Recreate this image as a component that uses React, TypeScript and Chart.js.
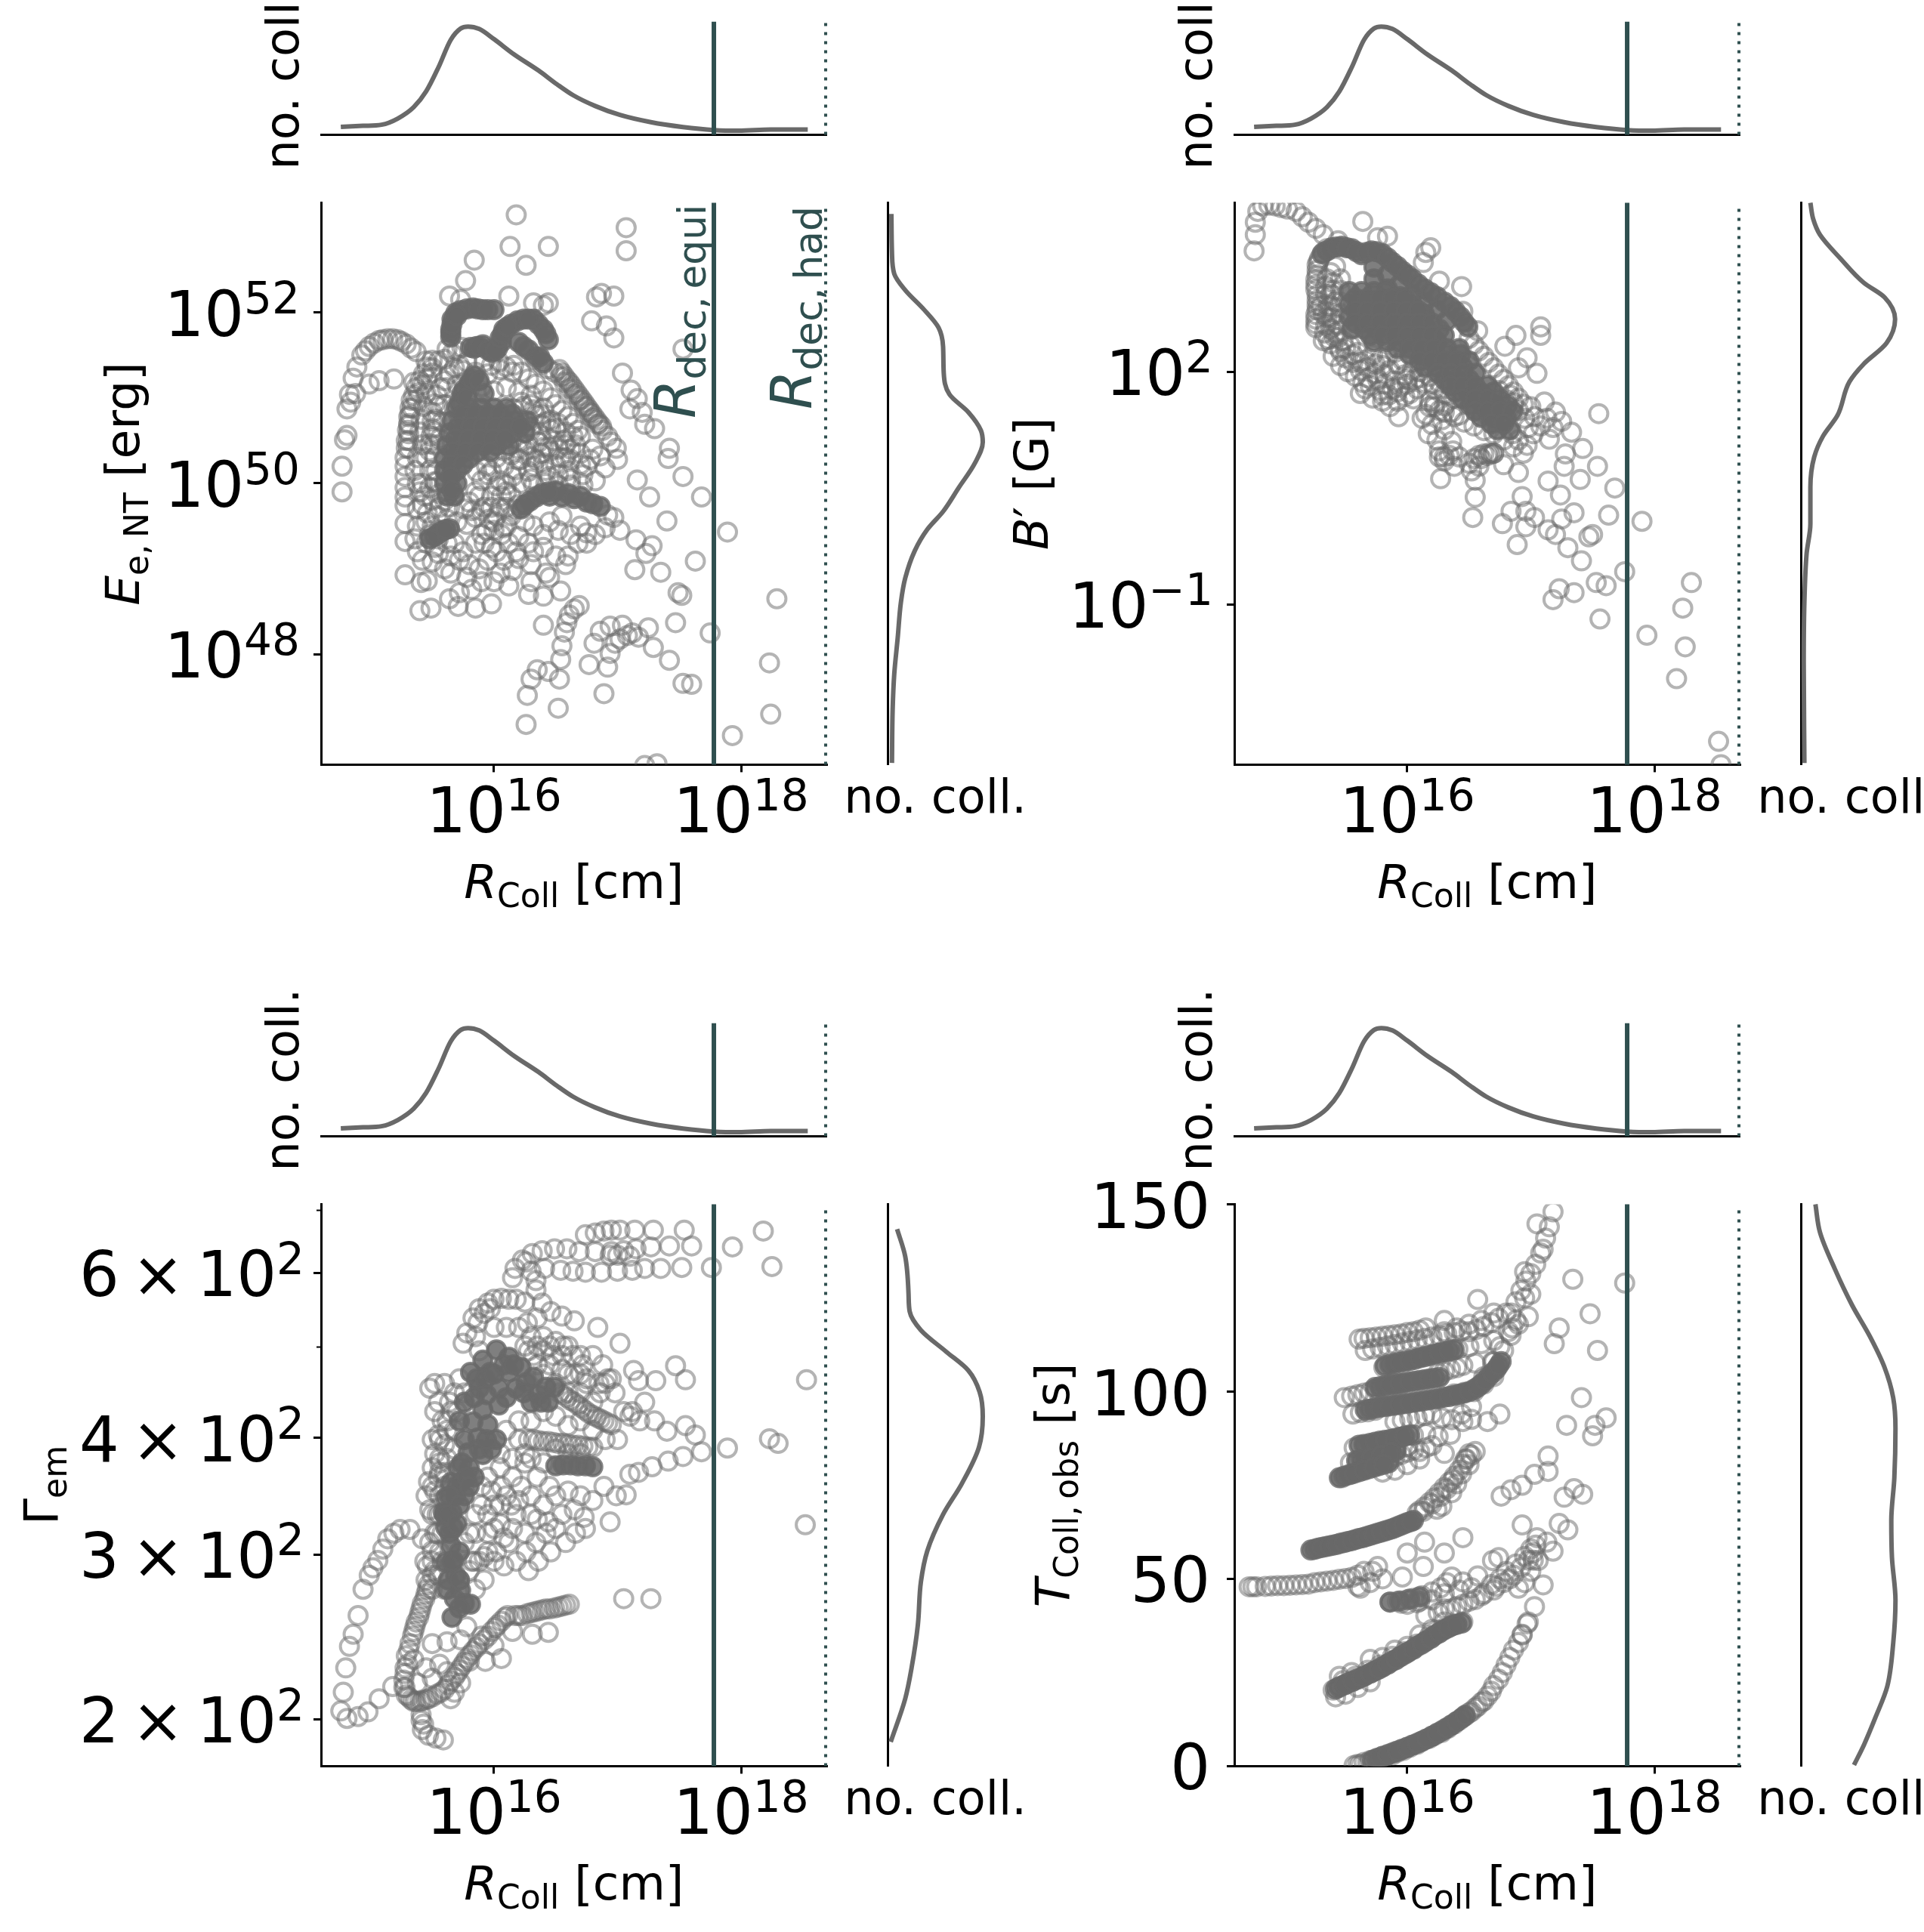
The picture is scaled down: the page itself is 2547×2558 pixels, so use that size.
import { useEffect, useRef } from "react"
import { Chart, registerables, type ChartConfiguration } from "chart.js"

Chart.register(...registerables)

// all scatter values are [log10 R_coll, log10 y] (the T panel keeps y in seconds)
const rTicks = [1e16, 1e18]
const rTickExponents = ["16", "18"]
const rMinLog = 14.6
const rMaxLog = 18.694
const rDecEquiLog = 17.78
const rDecHadLog = 18.685

const collisionKdeR = [14.76, 14.94, 15.09, 15.22, 15.35, 15.45, 15.55, 15.65, 15.73, 15.79, 15.88, 16.0, 16.16, 16.36, 16.51, 16.64, 16.82, 17.02, 17.27, 17.53, 17.78, 17.98, 18.24, 18.54]
const collisionKdeCount = [0.07, 0.08, 0.09, 0.144, 0.245, 0.383, 0.596, 0.84, 0.94, 0.957, 0.936, 0.846, 0.713, 0.569, 0.447, 0.351, 0.255, 0.176, 0.112, 0.069, 0.043, 0.037, 0.048, 0.048]

const energyTicks = [1e48, 1e50, 1e52]
const energyTickExponents = ["48", "50", "52"]
const energyKdeCount = [0.04, 0.046, 0.07, 0.185, 0.384, 0.536, 0.583, 0.59, 0.65, 0.85, 0.98, 1.0, 0.914, 0.748, 0.583, 0.417, 0.285, 0.185, 0.14, 0.106, 0.07, 0.053, 0.046]
const energyKdeLog = [53.15, 52.7, 52.45, 52.26, 52.03, 51.82, 51.6, 51.29, 51.04, 50.83, 50.62, 50.48, 50.23, 49.95, 49.67, 49.46, 49.21, 48.89, 48.61, 48.19, 47.77, 47.35, 46.73]

const energyOutliers = [
  [16.18, 53.14], [17.07, 52.99], [17.07, 52.72], [16.13, 52.77], [16.44, 52.77], [16.26, 52.55], [15.84, 52.61], [15.77, 52.37], [15.64, 52.19], [15.73, 52.15],
  [16.12, 52.19], [16.32, 52.11], [16.44, 52.11], [16.4, 52.08], [16.87, 52.22], [16.83, 52.18], [16.97, 52.19], [16.79, 51.9], [16.91, 51.84], [16.97, 51.7],
  [17.53, 51.57], [17.04, 51.29], [17.11, 51.09], [17.16, 50.99], [17.1, 50.87], [17.2, 50.83], [17.3, 50.64], [17.22, 50.69], [17.42, 50.41], [17.41, 50.29],
  [17.53, 50.08], [17.16, 50.04], [17.68, 49.84], [17.26, 49.84], [17.4, 49.56], [17.89, 49.43], [17.15, 49.34], [17.28, 49.27], [17.23, 49.18], [17.63, 49.09],
  [17.14, 48.99], [17.35, 48.96], [17.49, 48.72], [17.52, 48.69], [18.29, 48.65], [17.47, 48.37], [17.75, 48.25], [17.25, 48.31], [17.29, 48.08], [17.42, 47.93],
  [17.53, 47.66], [17.6, 47.65], [18.23, 47.9], [16.89, 47.54], [18.24, 47.3], [17.93, 47.05], [17.22, 46.7], [17.32, 46.72],
]
const energyLowerArcs = [
  [16.26, 47.18], [16.52, 47.37], [16.27, 47.52], [16.3, 47.71], [16.35, 47.82], [16.44, 47.8], [16.53, 47.71], [16.54, 47.94], [16.55, 48.1], [16.57, 48.26],
  [16.59, 48.37], [16.61, 48.46], [16.65, 48.53], [16.69, 48.57], [16.4, 48.34], [16.77, 47.88], [16.92, 47.85], [16.94, 48.01], [16.81, 48.13], [16.86, 48.27],
  [16.94, 48.33], [17.04, 48.34], [17.02, 48.18], [17.12, 48.25], [17.17, 48.2], [16.98, 48.13], [17.08, 48.22],
]
const energyLeftArc = [
  [14.77, 49.9], [14.77, 50.2], [14.79, 50.51], [14.81, 50.56], [14.81, 50.87], [14.83, 51.04], [14.86, 51.23], [14.89, 51.36], [14.93, 51.5], [14.96, 51.55],
  [14.99, 51.6], [15.03, 51.64], [15.07, 51.67], [15.1, 51.68], [15.14, 51.69], [15.18, 51.69], [15.22, 51.68], [15.25, 51.66], [15.29, 51.63], [15.33, 51.58],
  [15.37, 51.54], [15.45, 51.43], [14.99, 51.16], [15.07, 51.2], [15.19, 51.22], [15.35, 51.18], [14.88, 51.05], [14.84, 50.95],
]
const energyLeftColumn = [
  [15.5, 51.29], [15.46, 51.22], [15.42, 51.15], [15.39, 51.06], [15.37, 50.97], [15.34, 50.88], [15.32, 50.8], [15.31, 50.7], [15.3, 50.62], [15.29, 50.5],
  [15.29, 50.41], [15.28, 50.3], [15.28, 50.2], [15.28, 50.08], [15.28, 49.95], [15.28, 49.84], [15.28, 49.74], [15.28, 49.53], [15.28, 49.32], [15.28, 48.93],
  [15.41, 48.84], [15.46, 48.86], [15.4, 48.51], [15.49, 48.54], [15.64, 48.65], [15.71, 48.56], [15.85, 48.54], [15.98, 48.59], [16.28, 48.7], [16.4, 48.68], [16.54, 48.74],
  [15.45, 51.05], [15.43, 50.9], [15.41, 50.75], [15.4, 50.6], [15.42, 50.45], [15.45, 50.3], [15.48, 50.15],
]
const energyRingTop = [
  [15.62, 51.57], [15.66, 51.52], [15.7, 51.55], [15.74, 51.59], [15.5, 51.35], [15.55, 51.43], [15.6, 51.45],
  [16.33, 51.45], [16.39, 51.39], [16.44, 51.34], [16.49, 51.3], [16.54, 51.25], [16.57, 51.18], [16.61, 51.11], [16.65, 51.04], [16.69, 50.97], [16.73, 50.9], [16.77, 50.83], [16.8, 50.76], [16.84, 50.69],
  [16.88, 50.62], [16.92, 50.55], [16.95, 50.48], [16.99, 50.41],
  [16.53, 51.33], [16.55, 51.29], [16.57, 51.25], [16.59, 51.21], [16.61, 51.18], [16.63, 51.14], [16.65, 51.1], [16.67, 51.06], [16.69, 51.02], [16.71, 50.98], [16.73, 50.94], [16.75, 50.9], [16.77, 50.86], [16.79, 50.82], [16.81, 50.78], [16.83, 50.74], [16.85, 50.7], [16.87, 50.67],
]
const energyCore = [
  [15.75, 51.32], [15.85, 51.3], [15.95, 51.28], [16.05, 51.33], [16.15, 51.3], [15.62, 51.12], [15.7, 51.15], [15.8, 51.1], [15.9, 51.13], [16.0, 51.08], [16.1, 51.12], [16.2, 51.07], [16.3, 51.03],
  [15.6, 50.92], [15.68, 50.88], [16.16, 50.87], [16.24, 50.9], [16.32, 50.86], [16.4, 50.88],
  [15.58, 50.72], [16.3, 50.66], [16.38, 50.69], [16.46, 50.63], [15.56, 50.52], [16.2, 50.5], [16.28, 50.45], [16.36, 50.48], [16.44, 50.42], [16.52, 50.4],
  [16.2, 50.27], [16.3, 50.31], [16.4, 50.24], [16.5, 50.22], [16.58, 50.3], [16.7, 50.35], [16.8, 50.4],
  [15.62, 50.12], [15.95, 50.1], [16.05, 50.03], [16.15, 50.08], [16.3, 50.05], [16.45, 50.08], [16.6, 50.15], [16.75, 50.2], [16.9, 50.18], [17.0, 50.28],
  [15.85, 49.9], [15.98, 49.85], [16.1, 49.9], [15.64, 49.72], [15.76, 49.7], [15.9, 49.68], [16.05, 49.72],
]
const energyExtraArcs = [
  [15.5, 51.44], [15.46, 51.36], [15.43, 51.28], [15.4, 51.2], [15.37, 51.12], [15.35, 51.03], [15.33, 50.97], [15.32, 50.88], [15.31, 50.78], [15.31, 50.68], [15.31, 50.58], [15.31, 50.5], [15.31, 50.41],
  [15.68, 51.35], [15.64, 51.28], [15.6, 51.2], [15.57, 51.12], [15.54, 51.03], [15.52, 50.93], [15.5, 50.83], [15.5, 50.73], [15.5, 50.64], [15.49, 50.55], [15.48, 50.46], [15.48, 50.38],
  [15.78, 51.42], [15.72, 51.38], [15.92, 51.42], [15.98, 51.38], [16.04, 51.42], [16.1, 51.36], [16.16, 51.38], [16.22, 51.3], [16.28, 51.22], [16.34, 51.16], [16.4, 51.08], [16.46, 51.0], [16.5, 50.92], [16.55, 50.85], [16.6, 50.78], [16.64, 50.7], [16.68, 50.62], [16.7, 50.55],
  [16.34, 50.8], [16.42, 50.72], [16.5, 50.64], [16.56, 50.5], [16.62, 50.4], [16.54, 50.3], [16.46, 50.38], [16.38, 50.56], [16.3, 50.62], [16.22, 50.28], [16.32, 50.2], [16.42, 50.15], [16.52, 50.1], [16.62, 50.05], [16.72, 50.1], [16.38, 50.35], [16.28, 50.14], [16.18, 50.16], [16.08, 50.2], [15.98, 50.14],
  [15.42, 50.0], [15.48, 49.95], [15.52, 50.02], [15.56, 49.88], [15.5, 49.8], [15.42, 49.75], [15.38, 49.7], [15.46, 49.65], [15.54, 49.62], [15.62, 49.58], [15.7, 49.55], [15.78, 49.52], [15.85, 49.6], [15.92, 49.72], [15.96, 49.58], [16.0, 49.45], [16.02, 49.62], [15.94, 49.45], [16.14, 49.85], [16.18, 49.7], [16.1, 49.72], [15.85, 49.3], [15.75, 49.2], [15.65, 49.15], [15.55, 49.18], [15.95, 49.1], [16.05, 48.95], [15.72, 48.72], [15.82, 48.76], [16.0, 48.85], [16.15, 48.98],
]
const energyMesh = [
  [15.55, 50.9], [15.53, 50.75], [15.52, 50.6], [15.52, 50.45], [15.52, 50.3], [15.53, 50.15], [15.54, 50.02], [15.6, 49.8], [15.56, 49.72], [15.44, 49.85], [15.4, 49.9], [15.38, 50.0], [15.36, 50.15], [15.38, 50.3],
  [16.22, 50.95], [16.3, 50.92], [16.38, 50.8], [16.46, 50.74], [16.52, 50.7], [16.58, 50.6], [16.64, 50.55], [16.58, 50.45], [16.66, 50.45], [16.62, 50.28], [16.7, 50.22], [16.78, 50.28], [16.86, 50.32], [16.48, 50.5], [16.4, 50.42], [16.34, 50.28], [16.26, 50.38], [16.2, 50.4], [16.14, 50.33], [16.08, 50.38], [16.02, 50.3],
  [15.94, 50.2], [15.86, 50.14], [15.9, 50.03], [16.02, 49.97], [16.1, 49.98], [16.22, 50.0], [16.32, 49.98], [16.42, 50.0], [16.52, 49.98], [16.62, 49.98], [16.72, 49.98], [16.82, 50.03], [15.88, 49.85], [15.8, 49.78], [15.82, 49.68], [15.98, 49.72], [16.06, 49.85], [16.0, 49.55], [16.06, 49.4], [16.12, 49.3], [16.2, 49.38], [16.28, 49.3], [16.4, 49.4], [16.45, 49.55], [16.52, 49.45], [16.62, 49.4], [16.68, 49.3], [16.75, 49.42], [16.4, 49.25], [16.5, 49.15], [16.58, 49.05],
]
const energyShoulder = [
  [16.2, 49.75], [16.14, 49.62], [16.1, 49.5], [16.55, 49.62], [16.7, 49.5], [16.82, 49.4], [16.9, 49.48], [17.02, 49.45], [16.75, 49.3], [16.6, 49.15], [16.92, 49.63], [16.97, 49.6],
]
const energyLowerCluster = [
  [15.45, 49.55], [15.5, 49.5], [15.55, 49.45], [15.48, 49.4], [15.55, 49.35], [15.62, 49.3], [15.68, 49.3], [15.45, 49.3], [15.52, 49.25],
  [15.38, 49.5], [15.36, 49.35], [15.38, 49.2], [15.42, 49.1], [15.5, 49.08], [15.6, 49.0], [15.65, 48.95], [15.72, 49.1], [15.8, 49.05], [15.88, 49.0], [15.9, 48.85], [15.78, 48.9], [15.98, 49.25], [15.92, 49.3],
  [15.9, 49.4], [16.02, 49.2], [16.08, 49.1], [16.18, 49.2], [16.2, 49.12], [16.32, 49.2], [16.3, 49.05], [16.3, 48.85], [16.42, 48.95], [16.45, 48.9], [16.08, 49.48], [16.25, 49.55], [16.32, 49.5], [16.12, 48.8],
]
// stretches where the rings pile up into solid grey
const energyDense = [
  [15.65, 51.71], [15.65, 51.8], [15.66, 51.92], [15.73, 52.02], [15.83, 52.05], [15.91, 52.03], [16.0, 52.03], [15.69, 51.99], [15.78, 52.04],
  [15.81, 51.59], [15.86, 51.6], [15.91, 51.62], [15.98, 51.53], [16.03, 51.58], [16.06, 51.65], [16.08, 51.8], [16.14, 51.86], [16.19, 51.9], [16.24, 51.92], [16.32, 51.92], [16.36, 51.86], [16.4, 51.8], [16.44, 51.68], [16.4, 51.41], [16.28, 51.56], [16.2, 51.65], [16.34, 51.48],
  [15.7, 50.88], [15.8, 50.88], [15.9, 50.88], [16.0, 50.88], [16.1, 50.88], [15.66, 50.73], [15.76, 50.73], [15.87, 50.73], [15.97, 50.73], [16.07, 50.73], [16.17, 50.73], [16.27, 50.73],
  [15.64, 50.59], [15.75, 50.59], [15.85, 50.59], [15.95, 50.59], [16.05, 50.59], [16.15, 50.59], [16.25, 50.59], [15.62, 50.44], [15.72, 50.44], [15.82, 50.44], [15.92, 50.44], [16.02, 50.44], [16.12, 50.44],
  [15.6, 50.29], [15.7, 50.29], [15.8, 50.29], [15.6, 50.15], [15.7, 50.15], [15.6, 50.0], [15.7, 50.0], [15.62, 49.85], [15.68, 49.85],
  [15.72, 50.94], [15.74, 51.05], [15.8, 51.17], [15.84, 51.26],
  [16.22, 49.7], [16.29, 49.79], [16.39, 49.88], [16.5, 49.91], [16.6, 49.88], [16.7, 49.85], [16.8, 49.76], [16.86, 49.73], [16.45, 49.85], [16.55, 49.84], [16.65, 49.82], [16.75, 49.78],
  [15.58, 49.44], [15.52, 49.38], [15.64, 49.47],
]
const energyDenseFill = [
  [15.75, 50.81], [15.85, 50.81], [15.95, 50.81], [16.05, 50.81], [16.15, 50.81], [15.71, 50.66], [15.81, 50.66], [15.91, 50.66], [16.01, 50.66], [16.11, 50.66], [16.21, 50.66], [15.69, 50.52], [15.79, 50.52], [15.89, 50.52], [15.99, 50.52], [16.09, 50.52], [15.67, 50.37], [15.77, 50.37], [15.87, 50.37], [15.97, 50.37], [15.65, 50.22], [15.75, 50.22], [15.65, 50.08], [15.66, 49.92],
  [15.65, 51.76], [15.66, 51.86], [15.7, 51.96], [15.87, 52.04], [15.95, 52.03], [15.84, 51.58], [15.88, 51.6], [15.95, 51.56], [16.01, 51.55], [16.05, 51.7], [16.07, 51.75], [16.11, 51.83], [16.28, 51.92], [16.42, 51.75], [16.37, 51.48], [16.24, 51.6],
  [16.34, 49.84], [16.44, 49.9], [16.25, 49.75], [15.55, 49.41], [15.61, 49.46], [15.48, 49.35], [15.76, 51.1], [15.78, 51.0], [15.82, 51.22], [15.88, 51.2], [15.92, 51.05],
]

const fieldTicks = [1e-1, 1e2]
const fieldTickExponents = ["\u22121", "2"]
const fieldKdeCount = [0.1, 0.13, 0.2, 0.417, 0.66, 0.88, 0.99, 0.9, 0.66, 0.51, 0.386, 0.233, 0.14, 0.1, 0.1, 0.06, 0.037, 0.03, 0.037]
const fieldKdeLog = [4.18, 3.97, 3.77, 3.46, 3.15, 2.96, 2.68, 2.37, 2.1, 1.87, 1.44, 1.17, 0.9, 0.51, 0.04, -0.35, -0.97, -1.75, -3.05]

const fieldOutliers = [
  [15.64, 3.94], [15.76, 3.73], [15.84, 3.75], [16.19, 3.6], [16.15, 3.54], [16.13, 3.41], [16.26, 3.17], [16.44, 3.1], [16.45, 2.78], [16.57, 2.53], [16.88, 2.47], [16.79, 2.33], [17.08, 2.58], [17.08, 2.47],
  [16.97, 2.18], [16.9, 2.05], [17.05, 1.98], [17.55, 1.46], [17.11, 1.61], [17.2, 1.48], [17.25, 1.36], [17.33, 1.22], [17.42, 1.01], [17.15, 1.13], [17.28, 0.94], [17.27, 0.78], [17.4, 0.61], [17.54, 0.78],
  [17.14, 0.59], [17.24, 0.41], [17.68, 0.5], [16.93, 0.39], [17.63, 0.15], [17.9, 0.07], [17.35, 0.18], [17.25, 0.1], [17.03, 0.12], [16.96, 0.2], [16.84, 0.2], [16.77, 0.04], [16.89, -0.23], [16.96, 0],
  [17.14, -0.04], [17.2, -0.1], [17.3, -0.27], [17.5, -0.1], [17.47, -0.13], [17.41, -0.44], [17.76, -0.58], [17.53, -0.72], [17.61, -0.76], [17.23, -0.8], [17.18, -0.94], [17.35, -0.85], [18.3, -0.72],
  [18.23, -1.05], [17.56, -1.19], [17.94, -1.4], [18.25, -1.55], [18.18, -1.96], [18.52, -2.77], [18.54, -3.07], [17.03, 1.42], [17.08, 1.3], [17.0, 1.55], [17.13, 1.4], [17.18, 1.28],
]
const fieldLeftArc = [
  [14.76, 3.56], [14.77, 3.77], [14.77, 3.93], [14.79, 4.07], [14.83, 4.14], [14.88, 4.15], [14.93, 4.14], [14.98, 4.12], [15.03, 4.1], [15.1, 4.07], [15.15, 4.0], [15.2, 3.93], [15.26, 3.85], [15.32, 3.77], [15.44, 3.69],
  [15.26, 2.57], [15.27, 2.8], [15.27, 2.99], [15.26, 3.19], [15.27, 3.38], [15.29, 3.46], [15.32, 3.54], [15.35, 3.59],
  [15.26, 2.62], [15.26, 2.68], [15.26, 2.74], [15.27, 2.86], [15.27, 2.92], [15.26, 3.06], [15.26, 3.12], [15.27, 3.25], [15.27, 3.31], [15.28, 3.42], [15.33, 2.5], [15.36, 2.42], [15.41, 2.45], [15.35, 3.2], [15.38, 3.28], [15.42, 3.36],
]
const fieldMidRings = [
  [15.34, 3.0], [15.4, 3.05], [15.36, 2.85], [15.42, 2.9], [15.35, 2.7], [15.41, 2.75], [15.38, 2.55], [15.44, 2.6], [15.32, 2.4], [15.38, 2.36], [15.44, 2.44], [15.4, 2.2], [15.46, 2.26], [15.46, 2.08], [15.52, 2.0],
  [15.45, 2.3], [15.5, 2.18], [15.56, 2.12], [15.62, 2.02], [15.68, 1.92], [15.74, 1.98], [15.8, 2.08], [15.86, 2.02], [15.92, 2.1], [15.98, 1.96], [16.04, 2.02], [15.7, 1.82], [15.78, 1.76], [15.85, 1.7], [15.92, 1.74], [15.98, 1.68], [16.02, 1.72], [16.08, 1.78], [15.66, 1.78], [15.62, 1.72], [15.72, 1.66], [15.8, 1.62], [15.88, 1.78], [16.1, 1.92], [16.18, 1.94], [16.26, 1.86], [16.34, 1.82], [16.42, 1.76],
  [15.58, 1.94], [15.64, 1.86], [15.76, 1.9], [15.82, 1.84], [15.94, 1.8], [16.0, 1.84], [16.06, 1.9], [16.14, 1.86], [16.22, 1.78], [16.3, 1.72], [16.38, 1.66], [16.46, 1.7], [16.54, 1.6], [16.62, 1.54], [16.7, 1.46], [16.78, 1.38],
  [16.5, 2.43], [16.54, 2.35], [16.58, 2.27], [16.62, 2.2], [16.66, 2.12], [16.7, 2.05], [16.74, 1.97], [16.78, 1.9], [16.82, 1.82], [16.86, 1.74], [16.9, 1.66], [16.94, 1.58], [16.83, 1.7], [16.86, 1.6], [16.9, 1.5], [16.95, 1.4], [16.98, 1.28], [17.02, 1.2], [16.74, 1.76], [16.8, 1.64], [16.86, 1.48],
  [15.42, 2.5], [15.48, 2.4], [15.54, 2.34], [15.6, 2.25], [15.66, 2.15], [15.72, 2.22], [15.78, 2.15], [15.84, 2.2], [15.9, 2.25], [15.96, 2.15], [15.5, 2.3], [15.56, 2.22], [15.62, 2.12], [15.68, 2.05], [15.74, 2.1], [15.82, 1.96], [15.9, 1.88], [16.0, 1.9], [16.1, 2.0], [16.2, 1.85], [15.3, 2.85], [15.32, 2.75], [15.34, 2.6], [15.38, 2.7], [15.38, 2.85], [15.38, 3.0], [15.34, 3.1], [15.4, 3.15], [15.46, 3.2], [15.42, 2.62], [15.46, 2.75], [15.46, 2.9], [15.46, 3.05],
]
const fieldLower = [
  [15.8, 1.7], [15.86, 1.55], [15.92, 1.62], [15.93, 1.42], [16.05, 1.65], [16.17, 1.2], [16.15, 1.45], [16.18, 1.62], [16.22, 1.55], [16.3, 1.48], [16.3, 1.25], [16.38, 1.42], [16.46, 1.35], [16.54, 1.3], [16.62, 1.24], [16.7, 1.2], [16.78, 1.12], [16.86, 1.03], [16.94, 0.95],
  [16.26, 0.98], [16.3, 0.9], [16.37, 0.98], [16.42, 0.9], [16.27, 0.62], [16.55, 0.6], [16.58, 0.78], [16.6, 0.88], [16.65, 0.92], [16.68, 0.94], [16.7, 0.95], [16.55, 0.38], [16.53, 0.12],
  [16.36, 1.1], [16.24, 1.12], [16.85, 1.2], [16.9, 1.12], [16.97, 1.05], [16.78, 0.8], [16.9, 0.7], [16.18, 1.55], [16.22, 1.6], [16.26, 1.5], [16.3, 1.56], [16.36, 1.48], [16.42, 1.44], [16.12, 1.4], [16.2, 1.32], [16.28, 1.38],
  [16.5, 0.82], [16.54, 0.88], [16.58, 0.92], [16.62, 0.94], [16.66, 0.95], [16.7, 0.95], [16.52, 0.72], [16.3, 0.85], [16.38, 0.78], [16.34, 0.92], [16.26, 0.9],
]
const fieldDense = [
  [15.31, 3.52], [15.39, 3.6], [15.47, 3.62], [15.55, 3.59], [15.63, 3.51], [15.71, 3.56], [15.8, 3.52], [15.88, 3.41], [15.96, 3.3], [16.04, 3.2], [16.14, 3.07], [16.24, 2.97], [16.35, 2.84], [16.43, 2.71], [16.49, 2.58], [15.35, 3.56], [15.43, 3.61], [15.51, 3.6], [15.59, 3.55],
  [15.73, 3.2], [15.84, 3.07], [15.94, 2.97], [16.04, 2.84], [16.14, 2.74], [15.73, 3.35], [15.84, 3.25], [15.94, 3.13], [16.04, 3.0], [16.14, 2.9], [16.24, 2.8], [16.32, 2.66],
  [15.53, 3.035], [15.63, 3.035], [15.73, 3.035], [15.83, 3.035], [15.53, 2.87], [15.63, 2.87], [15.73, 2.87], [15.84, 2.87], [15.94, 2.87], [16.04, 2.87],
  [15.53, 2.71], [15.63, 2.71], [15.73, 2.71], [15.84, 2.71], [15.94, 2.71], [16.04, 2.71], [16.14, 2.71], [15.55, 2.55], [15.65, 2.55], [15.75, 2.55], [15.86, 2.55], [15.96, 2.55], [16.06, 2.55], [16.16, 2.55], [16.26, 2.55],
  [15.73, 2.39], [15.84, 2.39], [15.94, 2.39], [16.04, 2.39], [16.14, 2.39], [16.24, 2.39], [16.02, 2.22], [16.12, 2.22], [16.22, 2.22], [16.32, 2.22], [16.43, 2.22],
  [16.14, 2.06], [16.24, 2.06], [16.35, 2.06], [16.45, 2.06], [16.3, 1.9], [16.4, 1.9], [16.5, 1.9], [16.39, 1.74], [16.49, 1.74], [16.59, 1.74], [16.7, 1.74],
  [16.51, 1.57], [16.61, 1.57], [16.71, 1.57], [16.81, 1.57], [16.6, 1.41], [16.7, 1.41], [16.8, 1.41], [16.73, 1.25], [16.83, 1.25],
]
const fieldDenseFill = [
  [15.58, 2.95], [15.68, 2.95], [15.78, 2.95], [15.88, 2.95], [15.98, 2.95], [15.58, 2.79], [15.68, 2.79], [15.78, 2.79], [15.89, 2.79], [15.99, 2.79], [16.09, 2.79], [15.58, 2.63], [15.68, 2.63], [15.78, 2.63], [15.9, 2.63], [16.0, 2.63], [16.1, 2.63], [16.2, 2.63], [15.7, 2.47], [15.8, 2.47], [15.9, 2.47], [16.0, 2.47], [16.1, 2.47], [16.2, 2.47], [16.3, 2.47],
  [15.92, 2.3], [16.02, 2.3], [16.12, 2.3], [16.22, 2.3], [16.32, 2.3], [16.42, 2.3], [16.1, 2.14], [16.2, 2.14], [16.3, 2.14], [16.4, 2.14], [16.5, 2.14], [16.25, 1.98], [16.35, 1.98], [16.45, 1.98], [16.55, 1.98], [16.35, 1.82], [16.45, 1.82], [16.55, 1.82], [16.65, 1.82], [16.45, 1.65], [16.55, 1.65], [16.65, 1.65], [16.75, 1.65], [16.55, 1.49], [16.65, 1.49], [16.75, 1.49], [16.85, 1.49], [16.68, 1.33], [16.78, 1.33],
  [15.67, 3.54], [15.75, 3.55], [15.84, 3.47], [15.92, 3.36], [16, 3.25], [16.09, 3.13], [16.19, 3.02], [16.3, 2.9], [16.39, 2.78], [16.46, 2.64],
]

const gammaTicks = [200, 300, 400, 600]
const gammaMinorTicks = [500, 700]
const gammaMantissas = ["2", "3", "4", "6"]
const gammaKdeCount = [0.1, 0.185, 0.22, 0.232, 0.35, 0.616, 0.848, 0.967, 1.0, 0.96, 0.78, 0.583, 0.417, 0.35, 0.318, 0.252, 0.185, 0.033]
const gammaKdeLog = [2.825, 2.796, 2.756, 2.737, 2.717, 2.694, 2.674, 2.651, 2.625, 2.592, 2.553, 2.52, 2.481, 2.448, 2.402, 2.356, 2.323, 2.277]

const gammaTopTracks = [
  [18.18, 2.823], [17.54, 2.824], [17.29, 2.824], [17.14, 2.824], [17.02, 2.824], [16.95, 2.824], [16.89, 2.823], [16.82, 2.821], [16.74, 2.819], [17.93, 2.806], [17.6, 2.807], [17.42, 2.807], [17.27, 2.806], [17.15, 2.804],
  [17.05, 2.802], [16.95, 2.801], [16.82, 2.801], [16.69, 2.801], [16.59, 2.804], [16.49, 2.804], [16.39, 2.802], [16.31, 2.799], [16.23, 2.792], [16.17, 2.783], [16.15, 2.773], [18.25, 2.785], [17.76, 2.784], [17.52, 2.784],
  [17.35, 2.783], [17.22, 2.783], [17.12, 2.781], [17.0, 2.78], [16.87, 2.779], [16.74, 2.779], [16.64, 2.78], [16.54, 2.781], [16.41, 2.783], [16.34, 2.77], [16.34, 2.76], [16.39, 2.746], [16.3, 2.78], [16.26, 2.79], [16.94, 2.797], [17.1, 2.796], [17.0, 2.797],
]
const gammaMiddleArc = [
  [15.75, 2.703], [15.78, 2.714], [15.83, 2.73], [15.88, 2.74], [15.95, 2.746], [16.0, 2.75], [16.06, 2.751], [16.12, 2.75], [16.18, 2.75], [16.25, 2.747], [15.87, 2.725], [15.92, 2.735], [15.97, 2.74], [15.85, 2.71], [15.88, 2.695],
  [16.46, 2.737], [16.55, 2.732], [16.65, 2.727], [16.84, 2.72], [17.02, 2.703], [16.27, 2.725], [16.35, 2.73], [16.2, 2.72], [16.1, 2.72], [16.0, 2.72],
]
const gammaArmRings = [
  [16.53, 2.65], [16.56, 2.648], [16.59, 2.645], [16.62, 2.642], [16.65, 2.64], [16.68, 2.637], [16.71, 2.634], [16.74, 2.631], [16.77, 2.628], [16.8, 2.626], [16.83, 2.624], [16.86, 2.622], [16.89, 2.62], [16.92, 2.618], [16.95, 2.616],
  [16.28, 2.6], [16.32, 2.6], [16.36, 2.599], [16.4, 2.598], [16.44, 2.598], [16.48, 2.597], [16.52, 2.596], [16.56, 2.596], [16.6, 2.595], [16.64, 2.594], [16.68, 2.594], [16.72, 2.593], [16.76, 2.592], [16.8, 2.592],
]
const gammaScatterBand = [
  [15.48, 2.655], [15.52, 2.63], [15.55, 2.605], [15.56, 2.58], [15.55, 2.56], [15.47, 2.555], [15.45, 2.54], [15.5, 2.52], [15.54, 2.5], [15.56, 2.48], [15.5, 2.47], [15.46, 2.465],
  [16.25, 2.7], [16.32, 2.69], [16.4, 2.695], [16.48, 2.69], [16.56, 2.7], [16.64, 2.69], [16.72, 2.68], [16.8, 2.69], [16.88, 2.68], [16.92, 2.665], [16.98, 2.65], [16.86, 2.65], [16.75, 2.66], [17.05, 2.63], [17.12, 2.63], [17.18, 2.62],
  [15.95, 2.56], [16.05, 2.57], [16.15, 2.56], [16.25, 2.575], [16.35, 2.56], [16.45, 2.55], [16.2, 2.62], [16.3, 2.62], [16.4, 2.63], [16.5, 2.625], [16.6, 2.615], [16.7, 2.62], [16.8, 2.61], [16.9, 2.6], [17.0, 2.6],
  [15.9, 2.53], [16.0, 2.53], [16.1, 2.54], [16.2, 2.535], [16.3, 2.52], [16.4, 2.53], [16.5, 2.54], [16.6, 2.545], [16.7, 2.54], [16.8, 2.535], [15.85, 2.5], [15.95, 2.5], [16.05, 2.51], [16.15, 2.505], [16.25, 2.5], [16.35, 2.515], [16.44, 2.512], [16.55, 2.52], [16.65, 2.525],
  [15.82, 2.47], [15.92, 2.475], [16.02, 2.48], [16.12, 2.49], [15.5, 2.44], [15.55, 2.455], [15.85, 2.44], [15.78, 2.4], [15.72, 2.45],
  [15.52, 2.66], [15.55, 2.64], [15.58, 2.62], [15.5, 2.6], [15.52, 2.585], [15.6, 2.595], [15.62, 2.61], [15.65, 2.63], [15.68, 2.65], [15.72, 2.665], [15.76, 2.65], [15.6, 2.565], [15.56, 2.54], [15.5, 2.55], [15.48, 2.525], [15.54, 2.52], [15.58, 2.5],
  [15.98, 2.545], [16.06, 2.55], [16.14, 2.53], [16.22, 2.55], [16.3, 2.54], [16.05, 2.53], [15.95, 2.52], [16.0, 2.505], [16.08, 2.495], [16.18, 2.52], [16.26, 2.48], [16.34, 2.49], [16.42, 2.5], [16.5, 2.505], [16.58, 2.49], [16.66, 2.5], [16.74, 2.505], [16.0, 2.47], [16.08, 2.465], [16.18, 2.47], [16.28, 2.46], [16.36, 2.47], [16.46, 2.48], [15.92, 2.45],
  [16.3, 2.71], [16.4, 2.71], [16.5, 2.705], [16.6, 2.7], [16.7, 2.69], [16.35, 2.68], [16.45, 2.68], [16.55, 2.675], [16.65, 2.67], [16.75, 2.665], [16.85, 2.66], [16.95, 2.665], [16.28, 2.695], [16.6, 2.65], [16.7, 2.65], [16.8, 2.64],
]
const gammaMesh = [
  [15.6, 2.66], [15.64, 2.64], [15.7, 2.63], [15.62, 2.62], [15.68, 2.61], [15.56, 2.6], [15.62, 2.58], [15.68, 2.59], [15.56, 2.575], [15.6, 2.55], [15.5, 2.57], [15.56, 2.565], [15.52, 2.545], [15.56, 2.52], [15.52, 2.5], [15.48, 2.49], [15.44, 2.47], [15.52, 2.46], [15.58, 2.47], [15.45, 2.45], [15.6, 2.44],
  [15.8, 2.5], [15.85, 2.52], [15.9, 2.55], [15.88, 2.47], [15.95, 2.48], [15.8, 2.46], [15.84, 2.47], [15.76, 2.49], [16.35, 2.7], [16.45, 2.7], [16.55, 2.69], [16.4, 2.67], [16.5, 2.66], [16.6, 2.67], [16.7, 2.67], [16.9, 2.66],
  [16.2, 2.6], [16.1, 2.61], [16.25, 2.585], [16.15, 2.58], [16.3, 2.58], [16.05, 2.585], [16.4, 2.575], [16.5, 2.59], [16.6, 2.585], [16.7, 2.585],
]
const gammaRightEdge = [
  [18.53, 2.664], [18.23, 2.601], [18.3, 2.596], [17.89, 2.591], [17.68, 2.587], [18.52, 2.509], [17.55, 2.664], [17.47, 2.679], [17.31, 2.663], [17.17, 2.663], [17.13, 2.674], [17.55, 2.615], [17.63, 2.605], [17.4, 2.609],
  [17.53, 2.582], [17.41, 2.577], [17.28, 2.571], [17.17, 2.565], [17.1, 2.563], [17.07, 2.541], [16.99, 2.54], [16.89, 2.55], [16.94, 2.512], [16.73, 2.517], [17.3, 2.62], [17.22, 2.64], [17.1, 2.625],
]
const gammaLowerLoops = [
  [14.76, 2.31], [14.78, 2.33], [14.8, 2.356], [14.83, 2.379], [14.86, 2.392], [14.9, 2.412], [14.94, 2.44], [14.99, 2.455], [15.02, 2.463], [15.06, 2.471], [15.1, 2.483], [15.14, 2.494], [15.19, 2.5], [15.24, 2.504], [15.32, 2.504], [15.42, 2.494], [15.5, 2.481],
  [14.81, 2.302], [14.9, 2.304], [14.98, 2.309], [15.07, 2.323], [15.18, 2.336], [15.41, 2.3], [15.42, 2.29], [15.47, 2.284], [15.53, 2.281], [15.59, 2.279], [15.41, 2.306], [15.43, 2.296],
  [15.5, 2.455], [15.47, 2.445], [15.45, 2.435], [15.42, 2.425], [15.4, 2.415], [15.37, 2.405], [15.35, 2.395], [15.32, 2.382], [15.29, 2.369], [15.28, 2.356], [15.27, 2.343], [15.28, 2.335], [15.29, 2.327], [15.33, 2.322], [15.37, 2.32], [15.42, 2.321], [15.47, 2.323], [15.54, 2.328],
  [15.6, 2.333], [15.65, 2.342], [15.7, 2.35], [15.74, 2.358], [15.78, 2.366], [15.83, 2.374], [15.88, 2.382], [15.95, 2.39], [16.01, 2.399], [16.06, 2.406], [16.11, 2.412], [16.17, 2.412], [16.23, 2.412], [16.3, 2.415], [16.36, 2.417], [16.42, 2.419], [16.49, 2.42], [16.55, 2.422], [16.61, 2.424],
  [17.05, 2.43], [17.27, 2.43], [16.31, 2.392], [16.44, 2.394], [16.06, 2.366], [15.93, 2.363], [15.8, 2.363], [15.65, 2.323], [15.73, 2.34], [15.5, 2.382], [15.62, 2.384], [15.73, 2.386], [15.45, 2.356], [15.35, 2.365], [15.38, 2.34], [15.5, 2.345], [15.56, 2.36], [15.62, 2.352], [15.68, 2.33], [15.9, 2.39], [16.0, 2.38], [16.15, 2.395],
  [15.46, 2.44], [15.44, 2.43], [15.41, 2.42], [15.39, 2.41], [15.36, 2.4], [15.34, 2.39], [15.31, 2.375], [15.3, 2.36], [15.28, 2.35], [15.27, 2.335], [15.31, 2.325], [15.35, 2.32], [15.4, 2.32], [15.45, 2.322], [15.5, 2.325], [15.57, 2.33], [15.63, 2.338], [15.68, 2.346], [15.72, 2.354], [15.76, 2.362], [15.81, 2.37], [15.86, 2.378], [15.92, 2.386], [15.98, 2.395], [16.03, 2.402], [16.09, 2.41], [16.2, 2.412], [16.27, 2.414], [16.33, 2.416], [16.39, 2.418], [16.45, 2.419], [16.52, 2.421], [16.58, 2.423],
]
const gammaDense = [
  [16.02, 2.696], [15.91, 2.685], [16.12, 2.688], [16.22, 2.677], [16.32, 2.667], [16.42, 2.656], [15.81, 2.672], [15.97, 2.672], [16.12, 2.672], [16.26, 2.661], [16.36, 2.648], [16.49, 2.656], [15.88, 2.655], [16.04, 2.655], [16.18, 2.655], [16.3, 2.64],
  [15.91, 2.632], [16.04, 2.637], [15.83, 2.619], [15.95, 2.616], [15.87, 2.602], [16.02, 2.6], [15.79, 2.586], [15.91, 2.584], [15.71, 2.57], [15.8, 2.57], [15.65, 2.554], [15.74, 2.555], [15.61, 2.538], [15.69, 2.54], [15.59, 2.522], [15.66, 2.522], [15.61, 2.506], [15.67, 2.506], [15.65, 2.487], [15.61, 2.469], [15.67, 2.471], [15.69, 2.455], [15.63, 2.45], [15.73, 2.439], [15.68, 2.43], [15.81, 2.424], [15.76, 2.425],
  [16.5, 2.572], [16.56, 2.573], [16.62, 2.573], [16.68, 2.572], [16.74, 2.572], [16.8, 2.571],
]
const gammaDenseFill = [
  [15.86, 2.665], [15.93, 2.665], [16.0, 2.67], [16.08, 2.68], [16.16, 2.68], [15.84, 2.645], [15.94, 2.648], [16.1, 2.645], [16.24, 2.65], [16.38, 2.64], [16.44, 2.64],
  [15.76, 2.64], [15.72, 2.62], [15.76, 2.6], [15.88, 2.59], [15.98, 2.59], [15.84, 2.56], [15.74, 2.575], [15.76, 2.54], [15.7, 2.55], [15.64, 2.54], [15.6, 2.52], [15.63, 2.52], [15.64, 2.5], [15.7, 2.51], [15.66, 2.47], [15.72, 2.48], [15.62, 2.44], [15.72, 2.45], [15.66, 2.41], [15.72, 2.42], [15.94, 2.6], [15.78, 2.56], [15.72, 2.53], [15.8, 2.55],
]

const timeTicks = [0, 50, 100, 150]
const timeTickLabels = ["0", "50", "100", "150"]
const timeKdeCount = [0.153, 0.2, 0.356, 0.54, 0.724, 0.877, 0.97, 0.994, 0.982, 0.95, 0.957, 0.994, 0.97, 0.908, 0.785, 0.663, 0.558]
const timeKdeSeconds = [150, 142.6, 132.8, 123, 114.8, 106.6, 98.4, 90.2, 77, 65.6, 55.7, 44.3, 32.8, 21.3, 13.1, 5.7, 0.3]

const timeBottomTrack = [
  [15.57, 0.2], [15.6, 0.5], [15.65, 1], [15.7, 1.5], [15.75, 2], [15.8, 2.6], [15.85, 3.2], [15.9, 3.8], [15.95, 4.4], [16, 5], [16.05, 5.7], [16.1, 6.4], [16.15, 7.2], [16.2, 8], [16.25, 8.9], [16.3, 9.8], [16.35, 10.8], [16.4, 11.9], [16.45, 13], [16.5, 14.2],
  [16.55, 15.5], [16.6, 17], [16.65, 18.7], [16.68, 20], [16.7, 21.5], [16.74, 23.2], [16.77, 25], [16.8, 27], [16.83, 29], [16.86, 31], [16.9, 33], [16.93, 35], [16.97, 38], [17.03, 42.6], [15.62, 0.4], [15.68, 0.9], [15.72, 1.4], [15.78, 2], [15.82, 2.5], [15.88, 3], [15.92, 3.7], [15.97, 4.2], [16.02, 5], [16.08, 5.8], [16.12, 6.6],
  [16.18, 7.4], [16.22, 8.2], [16.28, 9], [16.33, 10.1], [16.38, 11.2], [16.42, 12.2], [16.47, 13.4], [16.52, 14.6], [16.57, 16], [16.62, 17.4],
]
const timeLowerBand = [
  [15.4, 20.3], [15.45, 21], [15.5, 21.8], [15.55, 22.5], [15.6, 23.2], [15.65, 24], [15.7, 24.8], [15.75, 25.6], [15.8, 26.5], [15.85, 27.4], [15.9, 28.3], [15.95, 29.3], [16, 30.3], [16.05, 31.3], [16.1, 32.3], [16.15, 33.3], [16.2, 34.4], [16.25, 35.4], [16.3, 36.4], [16.35, 37.3], [16.4, 38], [16.45, 38.5],
  [15.42, 18.5], [15.5, 19.2], [15.6, 21], [15.7, 22.5], [15.45, 24], [15.55, 25], [15.7, 28.5], [15.8, 29], [15.9, 31], [16, 32], [16.1, 35], [16.2, 36.5], [16.3, 38.5], [15.48, 22.8], [15.58, 24], [15.68, 25.6], [15.78, 27], [15.88, 29.3], [15.98, 30.6], [16.08, 32.6], [16.18, 34.8], [16.28, 36.6], [16.38, 37.8],
]
const timeMiddleBands = [
  [15.86, 43.8], [15.92, 44], [16, 44.4], [16.05, 44.8], [16.12, 45.5], [16.2, 46.5], [16.27, 47.6], [16.32, 49], [16.36, 50.5], [16.15, 40.2], [16.25, 41], [16.35, 42], [16.45, 43.2], [16.55, 44.5], [16.62, 46], [16.68, 48.5], [16.75, 50], [16.8, 52], [16.88, 54], [16.95, 56], [17.0, 58], [17.05, 61],
  [15.95, 43.5], [16.1, 44], [16.2, 44.4], [16.3, 46], [16.42, 47], [16.52, 47.6], [16.6, 45.5], [16.72, 48], [16.83, 50], [16.9, 47.5], [16.95, 49], [17.0, 52], [17.02, 55],
  [16.0, 43.2], [16.08, 43.6], [16.3, 42], [16.4, 42.6], [16.5, 44], [16.7, 47], [16.78, 49], [16.86, 51], [16.92, 53], [16.98, 55], [17.02, 57], [17.04, 59],
]
const timeLeftTail = [
  [14.72, 47.9], [14.75, 47.9], [14.78, 47.9], [14.85, 48], [14.9, 48.1], [14.95, 48.2], [15, 48.2], [15.05, 48.3], [15.1, 48.4], [15.15, 48.5], [15.2, 48.6], [15.25, 49], [15.3, 49.2], [15.35, 49.4], [15.4, 49.6], [15.45, 49.9], [15.5, 50.1], [15.55, 50.4], [15.6, 51], [15.62, 47.5], [15.6, 48], [15.7, 49], [15.8, 50], [15.76, 53.3], [15.72, 52], [15.65, 52],
]
const timeRisingBand = [
  [16.08, 67.6], [16.1, 68.2], [16.13, 68], [16.14, 69.2], [16.18, 70.4], [16.2, 70], [16.22, 71.6], [16.26, 73], [16.27, 72], [16.3, 74.4], [16.32, 74], [16.34, 75.8], [16.37, 76.5], [16.38, 77.4], [16.42, 79], [16.45, 80.6], [16.47, 82], [16.48, 82], [16.5, 83.4], [16.55, 84],
  [16.24, 68.6], [16.28, 69.4], [16.36, 73], [16.4, 75.4], [16.44, 78], [16.5, 80.5], [16.52, 83],
]
const timeUpperBands = [
  [15.47, 77], [15.55, 78], [15.65, 79.2], [15.75, 80.4], [15.85, 81.8], [15.9, 82.6], [15.95, 83.2], [16, 83.8], [16.05, 84.4], [16.15, 85], [15.57, 85], [15.67, 85.8], [15.77, 86.4], [15.88, 87.2], [15.95, 87.8], [16.05, 88.4], [16.15, 88.8],
  [15.54, 81], [15.6, 81.4], [15.66, 81.8], [15.72, 82.4], [15.78, 83], [15.84, 83.6], [15.9, 84.4], [16, 85.4], [16.1, 84], [16.2, 85.6], [16.25, 88], [16.35, 88.6], [16.45, 92], [16.52, 92.6], [15.8, 78.5], [15.9, 79], [16, 80.5], [16.1, 82], [16.3, 83.5],
  [15.9, 92], [15.96, 92.4], [16.02, 92.8], [16.08, 93], [16.14, 93.6], [16.2, 94], [16.28, 93], [16.36, 92.5], [16.44, 94], [16.52, 96],
  [15.49, 98.4], [15.55, 98.8], [15.6, 99.2], [15.65, 99.6], [15.7, 100], [15.75, 100.4], [15.8, 100.8], [15.85, 101], [15.9, 101.6], [15.95, 102], [16.25, 105], [16.3, 105.4], [16.35, 106], [16.4, 106.4], [16.45, 107], [16.55, 107.6], [16.69, 108],
  [15.56, 94], [15.62, 94.4], [15.68, 94.6], [15.74, 95], [16.38, 99.4], [16.46, 99.8], [16.54, 100], [16.62, 102], [16.7, 104],
  [15.81, 106.5], [16.41, 111.4], [16.5, 112], [16.6, 112.8], [16.7, 113.6], [16.84, 115],
  [15.61, 114], [15.65, 114.2], [15.7, 114.4], [15.75, 114.6], [15.8, 114.8], [15.85, 115], [15.9, 115.2], [15.95, 115.4], [16, 115.8], [16.05, 116], [16.1, 116.4], [16.15, 117], [16.3, 116], [16.4, 117], [16.5, 118], [16.6, 119], [16.7, 121],
  [15.66, 111], [15.72, 111.4], [15.78, 111.8], [15.84, 112.2], [15.9, 112.6], [15.96, 113], [16.02, 113.4], [16.08, 113.8], [16.14, 114.2], [16.2, 114.6], [16.26, 115], [16.32, 115.4], [16.38, 115.8], [16.44, 116.2], [16.5, 116], [16.56, 116.6], [16.62, 117.4], [16.68, 118.4], [16.74, 119.6], [16.8, 121],
]
const timeUpperCurve = [
  [16.84, 121], [16.88, 124], [16.92, 127], [16.96, 129.5], [17.0, 131.5], [17.04, 134], [17.08, 137], [17.1, 138], [17.12, 141], [17.15, 144], [17.18, 148], [17.05, 144.8], [16.95, 125], [16.98, 120], [16.9, 118], [16.95, 132], [17.0, 126],
  [16.75, 112], [16.82, 116], [16.88, 119], [16.62, 104], [16.7, 108], [16.78, 111], [16.85, 117],
]
const timeOutliers = [
  [16.57, 124.6], [16.3, 119], [17.34, 130], [17.76, 129], [17.48, 120.8], [17.23, 117], [17.19, 112.8], [17.54, 111], [17.41, 98.4], [17.29, 91], [17.61, 93], [17.52, 91], [17.5, 88.2], [17.14, 82.8], [17.14, 78.7], [17.03, 77.9], [16.93, 75], [16.84, 73.8], [16.76, 72.1], [17.35, 74.1], [17.42, 72.6], [17.27, 71.8],
  [16.93, 64.4], [17.23, 64.8], [17.3, 63.1], [16.45, 61], [16.14, 59.8], [16, 56.9], [16.13, 53.3], [16.3, 56.9], [15.96, 50.5], [16.74, 55.7], [16.69, 54.9], [16.57, 50.8], [16.45, 49.2], [16.98, 38.5], [16.93, 35.2], [17.18, 57.4], [17.13, 59.8], [17.06, 54.9], [17.1, 48.4], [16.75, 94], [16.65, 92],
]
const timeDense = [
  [15.82, 106.9], [15.9, 107.5], [15.98, 108], [16.06, 108.6], [16.14, 109.3], [16.22, 110], [16.3, 110.6], [16.38, 111.2],
  [15.74, 101.1], [15.82, 101.6], [15.9, 102], [15.98, 102.4], [16.06, 102.8], [16.14, 103.2], [16.22, 103.6],
  [15.66, 95.1], [15.74, 95.6], [15.82, 96], [15.9, 96.4], [15.98, 96.8], [16.06, 97.2], [16.14, 97.6], [16.22, 98], [16.3, 98.5], [16.38, 99], [16.46, 99.6], [16.54, 100.6], [16.6, 102], [16.66, 104], [16.72, 106], [16.76, 108],
  [15.61, 85.7], [15.7, 86.2], [15.78, 86.8], [15.86, 87.2], [15.94, 87.8], [16.02, 88.4], [15.59, 81.6], [15.67, 82], [15.75, 82.6], [15.83, 83.4], [15.91, 84.2],
  [15.45, 77], [15.53, 77.8], [15.61, 78.6], [15.69, 79.4], [15.77, 80.2], [15.85, 81],
  [15.22, 57.7], [15.28, 58.2], [15.34, 58.6], [15.4, 59], [15.46, 59.5], [15.52, 60], [15.58, 60.5], [15.64, 61], [15.7, 61.6], [15.76, 62.2], [15.82, 62.8], [15.88, 63.4], [15.94, 64.2], [16.0, 65], [16.05, 65.6],
  [15.45, 21.2], [15.52, 22.2], [15.59, 23.2], [15.66, 24.2], [15.73, 25.3], [15.8, 26.5], [15.87, 27.9], [15.94, 29.2], [16.01, 30.5], [16.08, 32], [16.15, 33.4], [16.22, 34.9], [16.29, 36.3], [16.36, 37.4], [16.44, 38.2],
  [15.72, 1.6], [15.8, 2.6], [15.88, 3.5], [15.96, 4.5], [16.04, 5.6], [16.12, 6.7], [16.2, 8], [16.28, 9.4], [16.36, 11], [16.44, 12.8], [15.86, 43.8], [15.94, 44.1], [16.02, 44.6], [16.1, 45.2],
]
const timeDenseFill = [
  [15.86, 107.2], [15.94, 107.8], [16.02, 108.3], [16.1, 109], [16.18, 109.6], [16.26, 110.3], [16.34, 110.9], [15.78, 101.3], [15.86, 101.8], [15.94, 102.2], [16.02, 102.6], [16.1, 103], [16.18, 103.4], [16.26, 103.8],
  [15.7, 95.3], [15.78, 95.8], [15.86, 96.2], [15.94, 96.6], [16.02, 97], [16.1, 97.4], [16.18, 97.8], [16.26, 98.2], [16.34, 98.7], [16.42, 99.3], [16.5, 100], [16.57, 101.2], [16.63, 103], [16.69, 105], [16.74, 107],
  [15.65, 85.9], [15.74, 86.5], [15.82, 87], [15.9, 87.5], [15.98, 88.1], [15.63, 81.8], [15.71, 82.3], [15.79, 83], [15.87, 83.8], [15.49, 77.4], [15.57, 78.2], [15.65, 79], [15.73, 79.8], [15.81, 80.6],
  [15.25, 57.9], [15.31, 58.4], [15.37, 58.8], [15.43, 59.2], [15.49, 59.7], [15.55, 60.2], [15.61, 60.8], [15.67, 61.3], [15.73, 61.9], [15.79, 62.5], [15.85, 63.1], [15.91, 63.8], [15.97, 64.6], [16.03, 65.3],
  [15.42, 20.6], [15.49, 21.7], [15.56, 22.7], [15.63, 23.7], [15.7, 24.8], [15.77, 25.9], [15.84, 27.2], [15.91, 28.5], [15.98, 29.9], [16.05, 31.2], [16.12, 32.7], [16.19, 34.1], [16.26, 35.6], [16.33, 36.9], [16.4, 37.8],
  [15.76, 2.1], [15.84, 3], [15.92, 4], [16.0, 5], [16.08, 6.1], [16.16, 7.3], [16.24, 8.7], [16.32, 10.2], [16.4, 11.9], [16.47, 13.6],
]

const TICK_LEN = 10
const FONT = '"DejaVu Sans"'
const GRAY = "#696969"
const SLATE = "#2f4f4f"

type Run = { text: string; italic?: boolean; level?: "sub" | "sup" }
type Label = { runs: Run[]; x: number; y: number; size: number; rotated?: boolean; align?: "left" | "center" | "right"; color?: string }

const rCollRuns: Run[] = [{ text: "R", italic: true }, { text: "Coll", level: "sub" }, { text: " [cm]" }]
const countRuns: Run[] = [{ text: "no. coll." }]

function drawRuns(ctx: CanvasRenderingContext2D, l: Label) {
  const fontOf = (r: Run) => `${r.italic ? "italic " : ""}${r.level ? l.size * 0.7 : l.size}px ${FONT}`
  ctx.save()
  ctx.translate(l.x, l.y)
  if (l.rotated) ctx.rotate(-Math.PI / 2)
  ctx.fillStyle = l.color || "#000"
  ctx.textBaseline = "alphabetic"
  ctx.textAlign = "left"
  const widths = l.runs.map((r) => {
    ctx.font = fontOf(r)
    return ctx.measureText(r.text).width
  })
  const total = widths.reduce((a, b) => a + b, 0)
  let cx = l.align === "center" ? -total / 2 : l.align === "right" ? -total : 0
  l.runs.forEach((r, i) => {
    ctx.font = fontOf(r)
    const dy = r.level === "sub" ? l.size * 0.19 : r.level === "sup" ? -l.size * 0.36 : 0
    ctx.fillText(r.text, cx, dy)
    cx += widths[i]
  })
  ctx.restore()
}

function labelsPlugin(getLabels: (chart: Chart) => Label[]) {
  return {
    id: "labels",
    afterDraw(chart: Chart) {
      getLabels(chart).forEach((l) => drawRuns(chart.ctx, l))
    },
  }
}

function toPoints(pairs: number[][], yIsLog: boolean) {
  return pairs.map(([r, y]) => ({ x: 10 ** r, y: yIsLog ? 10 ** y : y }))
}

function vLines(yMin: number, yMax: number) {
  const line = (logR: number, dashed: boolean) => ({
    data: [
      { x: 10 ** logR, y: yMin },
      { x: 10 ** logR, y: yMax },
    ],
    showLine: true,
    pointRadius: 0,
    borderColor: SLATE,
    borderWidth: dashed ? 4 : 6,
    borderDash: dashed ? [4, 8] : [],
    clip: false as const,
  })
  return [line(rDecEquiLog, false), line(rDecHadLog, true)]
}

const rScale = (extra: object) => ({
  type: "logarithmic" as const,
  min: 10 ** rMinLog,
  max: 10 ** rMaxLog,
  bounds: "data" as const,
  ...extra,
})

type PanelDef = {
  scale: "logarithmic" | "linear"
  yMin: number
  yMax: number
  yIsLog: boolean
  ticks: number[]
  tickRuns: Run[][]
  minorTicks?: number[]
  tickGap: number
  rings: number[][][]
  dense: number[][][]
  kdeCount: number[]
  kdeY: number[]
  yLabel: Run[]
  yLabelX: number
  rLabels?: boolean
}

const power = (mantissa: string, exp: string): Run[] => [{ text: mantissa }, { text: exp, level: "sup" }]

const panels: PanelDef[] = [
  {
    scale: "logarithmic",
    yMin: 10 ** 46.71,
    yMax: 10 ** 53.28,
    yIsLog: true,
    ticks: energyTicks,
    tickRuns: energyTickExponents.map((e) => power("10", e)),
    tickGap: 28,
    rings: [energyOutliers, energyLowerArcs, energyLeftArc, energyLeftColumn, energyRingTop, energyCore, energyExtraArcs, energyMesh, energyShoulder, energyLowerCluster],
    dense: [energyDense, energyDenseFill],
    kdeCount: energyKdeCount,
    kdeY: energyKdeLog,
    yLabel: [{ text: "E", italic: true }, { text: "e,\u2009NT", level: "sub" }, { text: " [erg]" }],
    yLabelX: 184,
    rLabels: true,
  },
  {
    scale: "logarithmic",
    yMin: 10 ** -3.07,
    yMax: 10 ** 4.18,
    yIsLog: true,
    ticks: fieldTicks,
    tickRuns: fieldTickExponents.map((e) => power("10", e)),
    tickGap: 28,
    rings: [fieldOutliers, fieldLeftArc, fieldMidRings, fieldLower],
    dense: [fieldDense, fieldDenseFill],
    kdeCount: fieldKdeCount,
    kdeY: fieldKdeLog,
    yLabel: [{ text: "B", italic: true }, { text: "\u2032" }, { text: " [G]" }],
    yLabelX: 178,
  },
  {
    scale: "logarithmic",
    yMin: 10 ** 2.251,
    yMax: 10 ** 2.8515,
    yIsLog: true,
    ticks: gammaTicks,
    minorTicks: gammaMinorTicks,
    tickRuns: gammaMantissas.map((m) => power(`${m}\u2009\u00d7\u200910`, "2")),
    tickGap: 22,
    rings: [gammaTopTracks, gammaMiddleArc, gammaArmRings, gammaScatterBand, gammaMesh, gammaRightEdge, gammaLowerLoops],
    dense: [gammaDense, gammaDenseFill],
    kdeCount: gammaKdeCount,
    kdeY: gammaKdeLog,
    yLabel: [{ text: "\u0393" }, { text: "em", level: "sub" }],
    yLabelX: 76,
  },
  {
    scale: "linear",
    yMin: 0,
    yMax: 150,
    yIsLog: false,
    ticks: timeTicks,
    tickRuns: timeTickLabels.map((t) => [{ text: t }]),
    tickGap: 32,
    rings: [timeBottomTrack, timeLowerBand, timeMiddleBands, timeLeftTail, timeRisingBand, timeUpperBands, timeUpperCurve, timeOutliers],
    dense: [timeDense, timeDenseFill],
    kdeCount: timeKdeCount,
    kdeY: timeKdeSeconds,
    yLabel: [{ text: "T", italic: true }, { text: "Coll,\u2009obs", level: "sub" }, { text: " [s]" }],
    yLabelX: 206,
  },
]

function mainConfig(p: PanelDef): ChartConfiguration {
  return {
    type: "scatter",
    data: {
      datasets: [
        ...vLines(p.yMin, p.yMax),
        {
          data: toPoints(p.dense.flat(), p.yIsLog),
          pointRadius: 12,
          pointBorderWidth: 4,
          pointBackgroundColor: "rgba(105,105,105,0.85)",
          pointBorderColor: "rgba(105,105,105,0.8)",
          clip: 0,
        },
        {
          data: toPoints(p.rings.flat(), p.yIsLog),
          pointRadius: 12,
          pointBorderWidth: 4,
          pointBackgroundColor: "rgba(0,0,0,0)",
          pointBorderColor: "rgba(105,105,105,0.5)",
          clip: 0,
        },
      ] as any,
    },
    options: {
      animation: false,
      responsive: false,
      devicePixelRatio: 1,
      events: [],
      layout: { padding: { left: 415, right: 35.5, top: 68.6, bottom: 197.6 } },
      plugins: { legend: { display: false }, tooltip: { enabled: false } },
      scales: {
        x: rScale({
          afterBuildTicks: (s: any) => {
            s.ticks = rTicks.map((value) => ({ value }))
          },
          afterFit: (s: any) => {
            s.height = TICK_LEN
          },
          ticks: { display: false },
          border: { color: "#000", width: 3 },
          grid: { drawOnChartArea: false, tickLength: TICK_LEN, color: "#000", lineWidth: 3 },
        }),
        y: {
          type: p.scale,
          min: p.yMin,
          max: p.yMax,
          bounds: "data",
          afterBuildTicks: (s: any) => {
            s.ticks = p.ticks.map((value) => ({ value }))
          },
          afterFit: (s: any) => {
            s.width = TICK_LEN
          },
          ticks: { display: false },
          border: { color: "#000", width: 3 },
          grid: { drawOnChartArea: false, tickLength: TICK_LEN, color: "#000", lineWidth: 3 },
        } as any,
      } as any,
    },
    plugins: [
      labelsPlugin((chart) => {
        const { x, y } = chart.scales
        const area = chart.chartArea
        const labels: Label[] = []
        rTicks.forEach((v, i) => {
          labels.push({ runs: power("10", rTickExponents[i]), x: x.getPixelForValue(v), y: area.bottom + 90, size: 83, align: "center" })
        })
        p.ticks.forEach((v, i) => {
          labels.push({ runs: p.tickRuns[i], x: area.left - p.tickGap, y: y.getPixelForValue(v) + 31, size: 83, align: "right" })
        })
        labels.push({ runs: rCollRuns, x: (area.left + area.right) / 2, y: area.bottom + 177, size: 63, align: "center" })
        labels.push({ runs: p.yLabel, x: p.yLabelX, y: (area.top + area.bottom) / 2, size: 63, align: "center", rotated: true })
        if (p.rLabels) {
          labels.push({
            runs: [{ text: "R", italic: true }, { text: "dec,\u2009equi", level: "sub" }],
            x: x.getPixelForValue(10 ** rDecEquiLog) - 25,
            y: 354,
            size: 74,
            rotated: true,
            color: SLATE,
          })
          labels.push({
            runs: [{ text: "R", italic: true }, { text: "dec,\u2009had", level: "sub" }],
            x: x.getPixelForValue(10 ** rDecHadLog) - 19,
            y: 342,
            size: 74,
            rotated: true,
            color: SLATE,
          })
        }
        const ctx = chart.ctx
        ctx.save()
        ctx.strokeStyle = "#000"
        ctx.lineWidth = 2
        ;(p.minorTicks || []).forEach((v) => {
          const py = y.getPixelForValue(v)
          ctx.beginPath()
          ctx.moveTo(area.left, py)
          ctx.lineTo(area.left - 6, py)
          ctx.stroke()
        })
        ctx.restore()
        return labels
      }),
    ],
  }
}

function topConfig(): ChartConfiguration {
  return {
    type: "scatter",
    data: {
      datasets: [
        ...vLines(0, 1),
        {
          data: collisionKdeR.map((r, i) => ({ x: 10 ** r, y: collisionKdeCount[i] })),
          showLine: true,
          pointRadius: 0,
          borderColor: GRAY,
          borderWidth: 6,
          cubicInterpolationMode: "monotone",
        },
      ] as any,
    },
    options: {
      animation: false,
      responsive: false,
      devicePixelRatio: 1,
      events: [],
      layout: { padding: { left: 75, right: 15.5, top: 48.7, bottom: 51.4 } },
      plugins: { legend: { display: false }, tooltip: { enabled: false } },
      scales: {
        x: rScale({
          afterFit: (s: any) => {
            s.height = 0
          },
          ticks: { display: false },
          border: { color: "#000", width: 3 },
          grid: { display: false },
        }),
        y: { display: false, min: 0, max: 1 },
      } as any,
    },
    plugins: [
      labelsPlugin((chart) => [
        { runs: countRuns, x: 45, y: (chart.chartArea.top + chart.chartArea.bottom) / 2, size: 62, align: "center", rotated: true },
      ]),
    ],
  }
}

function rightConfig(p: PanelDef): ChartConfiguration {
  return {
    type: "scatter",
    data: {
      datasets: [
        {
          data: p.kdeCount.map((c, i) => ({ x: c, y: p.yIsLog ? 10 ** p.kdeY[i] : p.kdeY[i] })),
          showLine: true,
          pointRadius: 0,
          borderColor: GRAY,
          borderWidth: 6,
          clip: false,
          cubicInterpolationMode: "monotone",
          indexAxis: "y",
        },
      ] as any,
    },
    options: {
      animation: false,
      responsive: false,
      devicePixelRatio: 1,
      events: [],
      layout: { padding: { left: 85, right: 109, top: 18.6, bottom: 87.6 } },
      plugins: { legend: { display: false }, tooltip: { enabled: false } },
      scales: {
        x: { display: false, min: 0, max: 1 },
        y: {
          type: p.scale,
          min: p.yMin,
          max: p.yMax,
          bounds: "data",
          afterFit: (s: any) => {
            s.width = 0
          },
          ticks: { display: false },
          border: { color: "#000", width: 3 },
          grid: { display: false },
        } as any,
      } as any,
    },
    plugins: [
      labelsPlugin((chart) => [
        { runs: countRuns, x: (chart.chartArea.left + chart.chartArea.right) / 2, y: 826, size: 62, align: "center" },
      ]),
    ],
  }
}

function ChartCanvas({ make, left, top, width, height }: { make: () => ChartConfiguration; left: number; top: number; width: number; height: number }) {
  const canvasRef = useRef<HTMLCanvasElement>(null)

  useEffect(() => {
    if (!canvasRef.current) return
    const chart = new Chart(canvasRef.current, make())
    return () => chart.destroy()
  }, [])

  return <canvas ref={canvasRef} width={width} height={height} style={{ position: "absolute", left, top, width, height }} />
}

export default function App() {
  return (
    <div style={{ position: "absolute", left: 0, top: 0, width: 2547, height: 2558, overflow: "hidden", background: "#fff" }}>
      {panels.map((p, i) => {
        const panelX = i % 2 === 0 ? 0 : 1209
        const panelY = i < 2 ? 0 : 1326
        return (
          <div key={i}>
            <ChartCanvas make={topConfig} left={panelX + 350} top={panelY - 20} width={760} height={250} />
            <ChartCanvas make={() => mainConfig(p)} left={panelX} top={panelY + 200} width={1130} height={1020} />
            <ChartCanvas make={() => rightConfig(p)} left={panelX + 1090} top={panelY + 250} width={320} height={850} />
          </div>
        )
      })}
    </div>
  )
}
